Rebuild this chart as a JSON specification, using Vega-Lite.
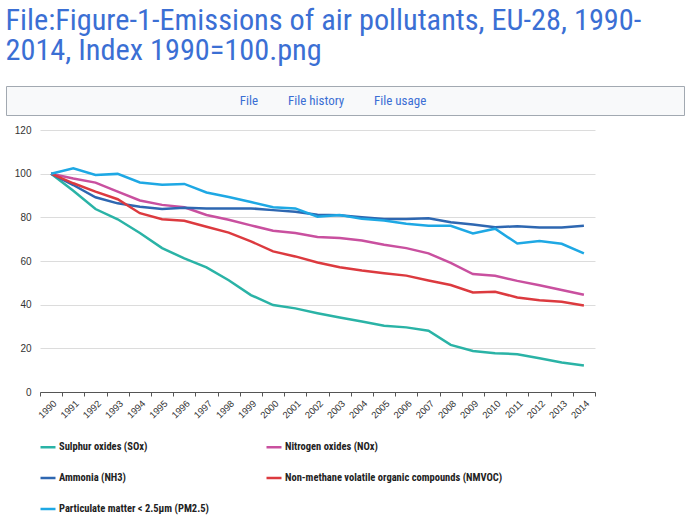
{
  "$schema": "https://vega.github.io/schema/vega-lite/v6.json",
  "background": "white",
  "padding": {"left": 5, "top": 6, "right": 4, "bottom": 0},
  "title": {
    "text": ["File:Figure-1-Emissions of air pollutants, EU-28, 1990-", "2014, Index 1990=100.png"],
    "anchor": "start",
    "frame": "bounds",
    "font": "Roboto Condensed, Liberation Sans Narrow, DejaVu Sans Condensed, Roboto, sans-serif",
    "fontSize": 30.3,
    "fontWeight": "normal",
    "lineHeight": 30,
    "color": "#3b6fd4",
    "offset": 19
  },
  "datasets": {
    "emissions": [
      {"year": 1990, "SOx": 100, "NOx": 100, "NH3": 100, "NMVOC": 100, "PM25": 100},
      {"year": 1991, "SOx": 92.2, "NOx": 97.8, "NH3": 94.8, "NMVOC": 95.6, "PM25": 102.5},
      {"year": 1992, "SOx": 83.8, "NOx": 95.9, "NH3": 89.2, "NMVOC": 91.8, "PM25": 99.4},
      {"year": 1993, "SOx": 79.1, "NOx": 91.8, "NH3": 86.4, "NMVOC": 88.3, "PM25": 99.9},
      {"year": 1994, "SOx": 72.8, "NOx": 87.7, "NH3": 84.9, "NMVOC": 81.9, "PM25": 96.0},
      {"year": 1995, "SOx": 65.9, "NOx": 85.7, "NH3": 83.8, "NMVOC": 79.1, "PM25": 94.9},
      {"year": 1996, "SOx": 61.2, "NOx": 84.6, "NH3": 84.4, "NMVOC": 78.4, "PM25": 95.3},
      {"year": 1997, "SOx": 57.1, "NOx": 81.1, "NH3": 84.1, "NMVOC": 75.7, "PM25": 91.4},
      {"year": 1998, "SOx": 51.2, "NOx": 78.9, "NH3": 84.1, "NMVOC": 73.0, "PM25": 89.3},
      {"year": 1999, "SOx": 44.4, "NOx": 76.3, "NH3": 84.1, "NMVOC": 69.0, "PM25": 87.0},
      {"year": 2000, "SOx": 39.8, "NOx": 73.9, "NH3": 83.3, "NMVOC": 64.4, "PM25": 84.6},
      {"year": 2001, "SOx": 38.3, "NOx": 72.8, "NH3": 82.6, "NMVOC": 62.1, "PM25": 84.1},
      {"year": 2002, "SOx": 36.1, "NOx": 71.0, "NH3": 81.2, "NMVOC": 59.3, "PM25": 80.3},
      {"year": 2003, "SOx": 34.1, "NOx": 70.5, "NH3": 80.9, "NMVOC": 57.1, "PM25": 81.1},
      {"year": 2004, "SOx": 32.3, "NOx": 69.4, "NH3": 80.0, "NMVOC": 55.6, "PM25": 79.3},
      {"year": 2005, "SOx": 30.3, "NOx": 67.4, "NH3": 79.2, "NMVOC": 54.4, "PM25": 78.5},
      {"year": 2006, "SOx": 29.6, "NOx": 65.9, "NH3": 79.2, "NMVOC": 53.3, "PM25": 77.1},
      {"year": 2007, "SOx": 28.1, "NOx": 63.5, "NH3": 79.6, "NMVOC": 51.1, "PM25": 76.1},
      {"year": 2008, "SOx": 21.6, "NOx": 59.1, "NH3": 77.8, "NMVOC": 49.0, "PM25": 76.1},
      {"year": 2009, "SOx": 18.8, "NOx": 54.0, "NH3": 76.7, "NMVOC": 45.6, "PM25": 72.6},
      {"year": 2010, "SOx": 17.8, "NOx": 53.2, "NH3": 75.5, "NMVOC": 45.9, "PM25": 74.8},
      {"year": 2011, "SOx": 17.3, "NOx": 50.9, "NH3": 75.9, "NMVOC": 43.3, "PM25": 68.0},
      {"year": 2012, "SOx": 15.5, "NOx": 48.9, "NH3": 75.4, "NMVOC": 42.0, "PM25": 69.2},
      {"year": 2013, "SOx": 13.5, "NOx": 46.7, "NH3": 75.4, "NMVOC": 41.3, "PM25": 67.9},
      {"year": 2014, "SOx": 12.1, "NOx": 44.5, "NH3": 76.1, "NMVOC": 39.6, "PM25": 63.5}
    ]
  },
  "config": {"view": {"stroke": null}},
  "spacing": 8,
  "vconcat": [
    {
      "width": 678,
      "height": 29,
      "view": {"fill": "#f8f9fa", "stroke": "#a2a9b1"},
      "data": {"values": [{"tabs": "File\u00a0\u00a0\u00a0\u00a0\u00a0\u00a0\u00a0\u00a0\u00a0\u00a0File history\u00a0\u00a0\u00a0\u00a0\u00a0\u00a0\u00a0\u00a0\u00a0\u00a0File usage"}]},
      "mark": {"type": "text", "font": "Roboto Condensed, Liberation Sans Narrow, DejaVu Sans Condensed, Roboto, sans-serif", "fontSize": 13, "color": "#3b6fd4", "dx": -12},
      "encoding": {"text": {"field": "tabs"}}
    },
    {
      "spacing": 0,
      "hconcat": [
        {
          "width": 8,
          "height": 1,
          "data": {"values": [{"t": ""}]},
          "mark": {"type": "text"},
          "encoding": {"text": {"field": "t"}}
        },
        {
          "width": 555,
          "height": 262,
          "data": {"name": "emissions"},
          "transform": [{"fold": ["SOx", "NOx", "NH3", "NMVOC", "PM25"], "as": ["pollutant", "value"]}],
          "mark": {"type": "line", "strokeWidth": 2.5},
          "encoding": {
            "x": {
              "field": "year",
              "type": "ordinal",
              "scale": {"type": "band", "paddingInner": 0, "paddingOuter": 0},
              "axis": {
                "title": null,
                "labelAngle": -45,
                "tickBand": "extent",
                "ticks": true,
                "tickSize": 4,
                "tickColor": "#555555",
                "domainColor": "#555555",
                "labelFont": "Liberation Sans",
                "labelFontSize": 9.5,
                "labelColor": "#333333",
                "labelPadding": 2,
                "grid": false
              }
            },
            "y": {
              "field": "value",
              "type": "quantitative",
              "scale": {"domain": [0, 120]},
              "axis": {
                "title": null,
                "values": [0, 20, 40, 60, 80, 100, 120],
                "domain": false,
                "ticks": false,
                "grid": true,
                "gridColor": "#dcdcdc",
                "labelPadding": 9,
                "labelFont": "Liberation Sans",
                "labelFontSize": 10,
                "labelColor": "#333333"
              }
            },
            "color": {
              "field": "pollutant",
              "type": "nominal",
              "sort": ["SOx", "NOx", "NH3", "NMVOC", "PM25"],
              "scale": {
                "domain": ["SOx", "NOx", "NH3", "NMVOC", "PM25"],
                "range": ["#2ab3a6", "#c9509f", "#2e67b1", "#dc3a3f", "#1ea8e4"]
              },
              "legend": {
                "title": null,
                "orient": "none",
                "legendX": 30,
                "legendY": 349,
                "direction": "horizontal",
                "columns": 2,
                "symbolType": "stroke",
                "symbolStrokeWidth": 2.5,
                "symbolSize": 225,
                "labelFont": "Roboto Condensed, Liberation Sans Narrow, DejaVu Sans Condensed, Roboto, sans-serif",
                "labelFontSize": 10.5,
                "labelFontWeight": "bold",
                "labelColor": "#222222",
                "columnPadding": 52,
                "rowPadding": 16,
                "labelOffset": 2,
                "padding": 3,
                "labelLimit": 400,
                "labelExpr": "datum.value == 'SOx' ? 'Sulphur oxides (SOx)' : datum.value == 'NOx' ? 'Nitrogen oxides (NOx)' : datum.value == 'NH3' ? 'Ammonia (NH3)' : datum.value == 'NMVOC' ? 'Non-methane volatile organic compounds (NMVOC)' : 'Particulate matter < 2.5µm (PM2.5)'"
              }
            }
          }
        }
      ]
    }
  ]
}
